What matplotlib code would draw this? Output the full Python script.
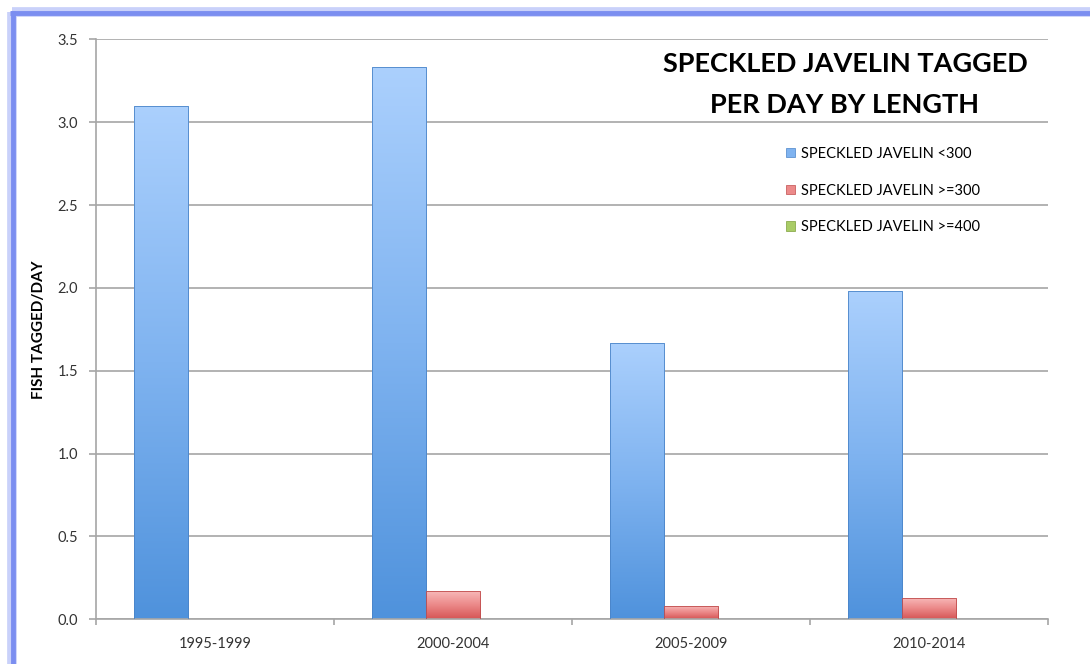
import numpy as np
import matplotlib
matplotlib.use("Agg")
import matplotlib.pyplot as plt
from matplotlib.colors import LinearSegmentedColormap
from matplotlib.patches import Rectangle
from matplotlib.lines import Line2D

# data
periods = ['1995-1999', '2000-2004', '2005-2009', '2010-2014']
under_300 = [3.10, 3.33, 1.67, 1.98]
over_300 = [0.00, 0.17, 0.08, 0.13]
over_400 = [0.00, 0.00, 0.00, 0.00]
series_names = ['SPECKLED JAVELIN <300', 'SPECKLED JAVELIN >=300', 'SPECKLED JAVELIN >=400']

plt.rcParams['font.family'] = ['Lato', 'DejaVu Sans']

fig = plt.figure(figsize=(10.9, 6.64), dpi=100)
ax = fig.add_axes([96/1090, 1 - 619.3/664, (1048-96)/1090, (619.3-39.3)/664])

# gradient colormaps (bottom -> top)
cmaps = [
    LinearSegmentedColormap.from_list('b', ['#4f92dc', '#7fb3f0', '#abd0fd']),
    LinearSegmentedColormap.from_list('r', ['#d65555', '#ec8a8a', '#f8bcbc']),
    LinearSegmentedColormap.from_list('g', ['#86b13c', '#a9cc66', '#cfe79d']),
]
edges = ['#4a84c8', '#c04c4c', '#7ea03a']

x = np.arange(len(periods))
w = 0.227
grad = np.linspace(0, 1, 256).reshape(-1, 1)

for k, vals in enumerate([under_300, over_300, over_400]):
    bars = ax.bar(x + (k - 1) * w, vals, w, color='none', edgecolor=edges[k],
                  linewidth=0.6, zorder=3)
    for b in bars:
        if b.get_height() <= 0:
            continue
        x0, y0 = b.get_x(), b.get_y()
        im = ax.imshow(grad, extent=[x0, x0 + b.get_width(), y0, y0 + b.get_height()],
                       origin='lower', aspect='auto', cmap=cmaps[k], zorder=2.5)
        im.set_clip_path(b)

ax.set_xlim(-0.5, 3.5)
ax.set_ylim(0, 3.5)
ax.set_yticks(np.arange(0, 3.51, 0.5))
ax.set_yticklabels([f'{v:.1f}' for v in np.arange(0, 3.51, 0.5)])
ax.set_xticks(x)
ax.set_xticklabels(periods)
ax.set_xticks(np.arange(-0.5, 3.6, 1), minor=True)

ax.yaxis.grid(True, color='#a6a6a6', linewidth=1.2, zorder=0)
ax.set_axisbelow(True)
for s in ['top', 'right']:
    ax.spines[s].set_visible(False)
for s in ['left', 'bottom']:
    ax.spines[s].set_color('#a6a6a6')
    ax.spines[s].set_linewidth(1.2)

ax.tick_params(axis='y', length=5, width=1.2, color='#a6a6a6', labelsize=10.5,
               labelcolor='#333333', pad=8)
ax.tick_params(axis='x', which='major', length=0, labelsize=10.5, labelcolor='#333333', pad=13)
ax.tick_params(axis='x', which='minor', length=4, width=1.2, color='#a6a6a6')

ax.set_ylabel('FISH TAGGED/DAY', fontsize=11, fontweight='bold', labelpad=8)

# two title lines placed separately
fig.text(845/1090, 1 - 64/664, 'SPECKLED JAVELIN TAGGED',
         ha='center', va='center', fontsize=19.5, fontweight='bold')
fig.text(845/1090, 1 - 105/664, 'PER DAY BY LENGTH',
         ha='center', va='center', fontsize=19.5, fontweight='bold')

handles = [Rectangle((0, 0), 1, 1, facecolor=c(0.5), edgecolor=edges[i], linewidth=0.5)
           for i, c in enumerate(cmaps)]
fig.legend(handles, series_names, loc='upper left',
           bbox_to_anchor=(786/1090, 1 - 147/664), frameon=False, fontsize=10.5,
           handlelength=0.6, handleheight=0.6, handletextpad=0.4,
           labelspacing=1.55, borderpad=0, borderaxespad=0)

# blue frame around the chart
fig.add_artist(Line2D([12/1090, 1], [1 - 12/664, 1 - 12/664], color='#c9d1fa',
                      linewidth=7, solid_capstyle='butt'))
fig.add_artist(Line2D([12/1090, 12/1090], [0, 1 - 12/664], color='#c9d1fa',
                      linewidth=7, solid_capstyle='butt'))
fig.add_artist(Line2D([10/1090, 1], [1 - 13/664, 1 - 13/664], color='#7b8ef0',
                      linewidth=3.5, solid_capstyle='butt'))
fig.add_artist(Line2D([12.5/1090, 12.5/1090], [0, 1 - 11/664], color='#7b8ef0',
                      linewidth=3.5, solid_capstyle='butt'))

fig.savefig('out.png', dpi=100)
